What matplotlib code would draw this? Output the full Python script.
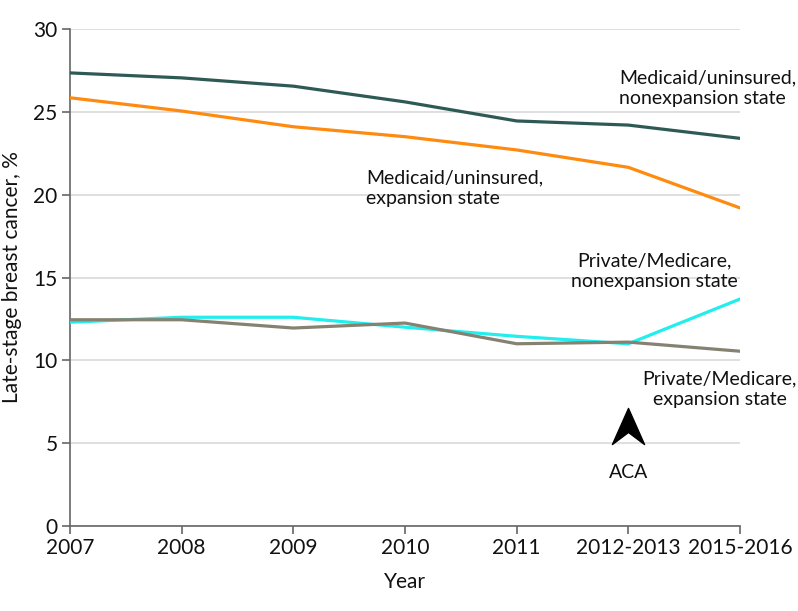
import matplotlib
matplotlib.use("Agg")

import matplotlib.pyplot as plt
from matplotlib.path import Path

years = ["2007", "2008", "2009", "2010", "2011", "2012-2013", "2015-2016"]
medicaid_nonexp = [27.35, 27.05, 26.55, 25.6, 24.45, 24.2, 23.4]
medicaid_exp = [25.85, 25.05, 24.1, 23.5, 22.7, 21.65, 19.2]
private_nonexp = [12.3, 12.6, 12.6, 12.0, 11.45, 11.0, 13.7]
private_exp = [12.45, 12.45, 11.95, 12.25, 11.0, 11.1, 10.55]
aca_index = 5

plt.rcParams["font.family"] = ["Lato", "DejaVu Sans"]

fig = plt.figure(figsize=(7.98, 6.11), dpi=100)
ax = fig.add_axes([70 / 798, 85 / 611, 670 / 798, 497 / 611])

x = list(range(len(years)))
ax.plot(x, private_nonexp, color="#22eeee", lw=2.3, zorder=3)
ax.plot(x, private_exp, color="#858272", lw=2.3, zorder=3)
ax.plot(x, medicaid_exp, color="#ff8a10", lw=2.3, zorder=3)
ax.plot(x, medicaid_nonexp, color="#2e5a56", lw=2.3, zorder=3)

ax.set_xlim(0, len(years) - 1)
ax.set_ylim(0, 30)
ax.set_yticks(range(0, 31, 5))
ax.set_xticks(x)
ax.set_xticklabels(years)
ax.yaxis.grid(True, color="#d9d9d9", lw=1.2)
ax.set_axisbelow(True)

for side in ["top", "right"]:
    ax.spines[side].set_visible(False)
for side in ["left", "bottom"]:
    ax.spines[side].set_color("#666666")
    ax.spines[side].set_linewidth(1.2)
ax.tick_params(axis="both", direction="out", length=6, width=1.2, color="#666666",
               labelsize=15, labelcolor="#111111")
ax.tick_params(axis="y", pad=3)
ax.tick_params(axis="x", pad=3)

ax.set_xlabel("Year", fontsize=15, labelpad=10, color="#111111")
ax.set_ylabel("Late-stage breast cancer, %", fontsize=15, labelpad=8, color="#111111")

lab = dict(fontsize=14, color="#111111", linespacing=1.25)
ax.text(4.92, 27.55, "Medicaid/uninsured,\nnonexpansion state", ha="left", va="top", **lab)
ax.text(2.65, 21.5, "Medicaid/uninsured,\nexpansion state", ha="left", va="top", **lab)
ax.text(5.23, 16.5, "Private/Medicare,\nnonexpansion state", ha="center", va="top", **lab)
ax.text(5.82, 9.4, "Private/Medicare,\nexpansion state", ha="center", va="top", clip_on=False, **lab)

# ACA arrowhead
arrow = Path([(0, 1), (0.89, -1), (0, -0.33), (-0.89, -1), (0, 1)],
             [Path.MOVETO, Path.LINETO, Path.LINETO, Path.LINETO, Path.CLOSEPOLY])
ax.plot([aca_index], [6.05], marker=arrow, markersize=26, color="black", zorder=4)
ax.text(aca_index, 3.2, "ACA", ha="center", va="center", **lab)

fig.savefig("out.png", dpi=100)
